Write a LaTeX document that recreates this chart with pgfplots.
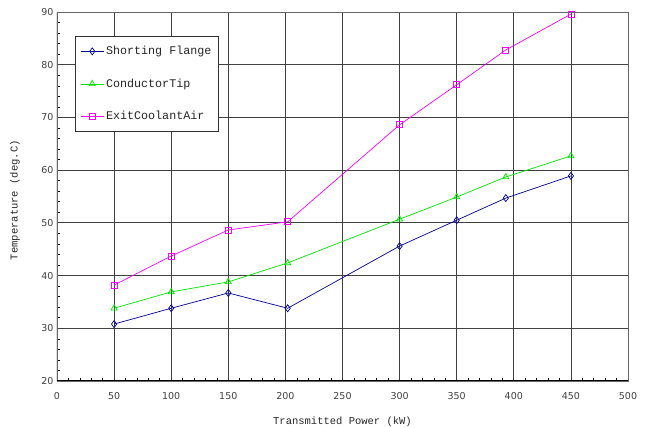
\documentclass[border=0pt]{standalone}
\usepackage{pgfplots}
\pgfplotsset{compat=1.18}
\usepackage{fontspec}
\setmainfont{DejaVu Sans}
\newfontfamily\monof{Liberation Mono}
\definecolor{sfblue}{RGB}{0,0,150}
\definecolor{ctgreen}{RGB}{0,230,0}
\definecolor{ecmag}{RGB}{255,0,255}
\begin{document}
\begin{tikzpicture}
\path[use as bounding box] (-57pt,-47pt) rectangle (589pt,381pt);
\begin{axis}[
  at={(0,0)}, anchor=origin,
  width=571pt, height=369pt, scale only axis,
  xmin=0, xmax=500, ymin=20, ymax=90,
  xtick distance=50, ytick distance=10,
  minor x tick num=4, minor y tick num=4,
  xtick pos=bottom, ytick pos=left,
  grid=major,
  major grid style={black!75, line width=0.8pt},
  axis line style={black!60, line width=0.9pt},
  tick align=inside,
  major tick length=0pt,
  minor tick length=3pt,
  every tick/.style={black, line width=0.6pt},
  tick label style={font=\fontsize{9.5}{11}\selectfont, text=black!75},
  xticklabel style={yshift=-8pt},
  yticklabel style={xshift=0pt},
  /pgf/number format/assume math mode=true,
  xlabel={Transmitted Power (kW)},
  ylabel={Temperature (deg.C)},
  label style={font=\monof\fontsize{10.5}{12}\selectfont, text=black!85},
  xlabel style={at={(axis description cs:0.5,0)}, yshift=-41pt, anchor=center},
  ylabel style={at={(axis description cs:0,0.49)}, yshift=42pt, anchor=center},
  legend style={at={(axis description cs:0.0315,0.935)}, anchor=north west,
    draw=black!80, line width=0.8pt, fill=white, font=\monof\fontsize{11.7}{13}\selectfont,
    row sep=18.5pt, inner xsep=5pt, inner ysep=8pt, text=black!85},
  legend cell align=left,
  legend image code/.code={\draw[mark repeat=2,mark phase=2] plot coordinates {(0pt,0pt)(11.5pt,0pt)(23pt,0pt)};},
  every axis plot/.append style={line width=0.7pt},
]
\draw[black, line width=1pt] (rel axis cs:0,1) -- (rel axis cs:0,0) -- (rel axis cs:1,0);
\addplot[sfblue, mark=diamond, mark size=3.5pt, mark options={solid, fill=none}] coordinates {
 (50,30.8) (100,33.8) (150,36.7) (202,33.8) (300,45.6) (350,50.5) (393,54.7) (450,58.9)};
\addlegendentry{Shorting Flange}
\addplot[ctgreen, mark=triangle, mark size=3.5pt, mark options={solid, fill=none}] coordinates {
 (50,33.8) (100,36.9) (150,38.8) (202,42.4) (300,50.7) (350,54.9) (393,58.7) (450,62.7)};
\addlegendentry{ConductorTip}
\addplot[ecmag, mark=square, mark size=3pt, mark options={solid, fill=none}] coordinates {
 (50,38.2) (100,43.7) (150,48.65) (202,50.2) (300,68.6) (350,76.2) (393,82.8) (450,89.6)};
\addlegendentry{ExitCoolantAir}
\end{axis}
\end{tikzpicture}
\end{document}
